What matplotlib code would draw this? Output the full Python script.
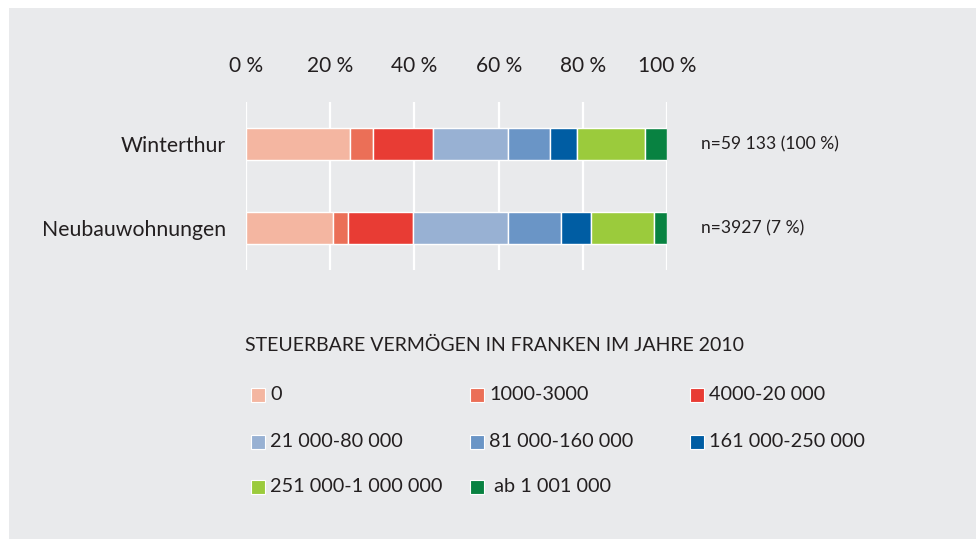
import matplotlib.pyplot as plt
from matplotlib.patches import Rectangle

plt.rcParams['font.family'] = ['Lato', 'DejaVu Sans']

# data (shares in %)
groups = ['Winterthur', 'Neubauwohnungen']
counts = ['n=59 133 (100 %)', 'n=3927 (7 %)']
classes = ['0', '1000-3000', '4000-20 000', '21 000-80 000', '81 000-160 000',
           '161 000-250 000', '251 000-1 000 000', ' ab 1 001 000']
winterthur = [24.8, 5.4, 14.2, 17.7, 10.1, 6.5, 16.0, 5.3]
neubau = [20.7, 3.6, 15.5, 22.5, 12.4, 7.1, 15.0, 3.2]
colors = ['#F4B6A1', '#EB6F57', '#E83C34', '#98B1D3', '#6A95C6',
          '#005DA3', '#9BCB3C', '#088241']
ticks = [0, 20, 40, 60, 80, 100]
legend_title = 'STEUERBARE VERMÖGEN IN FRANKEN IM JAHRE 2010'

W, H = 976, 539
fig = plt.figure(figsize=(W / 100, H / 100), dpi=100)
fig.patch.set_facecolor('white')
# gray panel (behind everything)
fig.patches.append(Rectangle((9 / W, 0), 1, 1 - 8 / H, transform=fig.transFigure,
                             facecolor='#E9EAEC', edgecolor='none', zorder=-5))

ax = fig.add_axes([245.7 / W, 1 - 270 / H, 421.6 / W, 168 / H])
ax.set_facecolor('none')

rows = [winterthur, neubau]
for i, vals in enumerate(rows):
    left = 0
    for v, c in zip(vals, colors):
        ax.barh(i, v, left=left, height=0.39, color=c, edgecolor='white',
                linewidth=1, zorder=3)
        left += v
    ax.text(100 + 8.1, i, counts[i], va='center', ha='left', fontsize=12.6,
            color='#231F20')

for t in ticks:
    ax.axvline(t, color='white', linewidth=1.6, zorder=1)

ax.set_xlim(0, 100)
ax.set_ylim(1.5, -0.5)
ax.xaxis.tick_top()
ax.set_xticks(ticks)
ax.set_xticklabels([f'{t} %' for t in ticks], fontsize=15, color='#231F20')
ax.set_yticks(range(len(groups)))
ax.set_yticklabels(groups, fontsize=15.3, color='#231F20')
ax.tick_params(axis='x', length=0, pad=19)
ax.tick_params(axis='y', length=0, pad=14)
for s in ax.spines.values():
    s.set_visible(False)

# legend drawn by hand on the figure
fig.text(245 / W, 1 - 345 / H, legend_title, fontsize=14.0, color='#231F20',
         va='center', ha='left')
col_x = [251, 470, 690]
row_y = [395, 441.5, 486.5]
for k in range(len(classes)):
    r, c = divmod(k, 3)
    x, y = col_x[c], row_y[r]
    fig.patches.append(Rectangle((x / W, 1 - (y + 7) / H), 14 / W, 14 / H,
                                 transform=fig.transFigure, facecolor=colors[k],
                                 edgecolor='white', linewidth=0.8))
    fig.text((x + 19) / W, 1 - y / H, classes[k], fontsize=14.3, color='#231F20',
             va='center', ha='left')

plt.savefig('out.png', dpi=100)
